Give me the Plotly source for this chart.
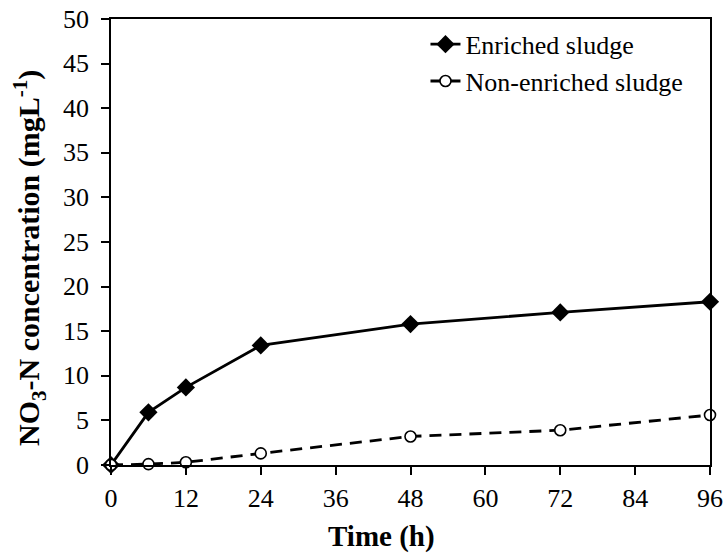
import plotly.graph_objects as go

time_h = [0, 6, 12, 24, 48, 72, 96]
enriched = [0, 5.9, 8.7, 13.4, 15.8, 17.1, 18.3]
non_enriched = [0, 0.1, 0.3, 1.3, 3.2, 3.9, 5.6]
x_ticks = [0, 12, 24, 36, 48, 60, 72, 84, 96]
y_ticks = [0, 5, 10, 15, 20, 25, 30, 35, 40, 45, 50]

font_family = "Liberation Serif"

fig = go.Figure()
fig.add_trace(go.Scatter(
    x=time_h, y=enriched, name="Enriched sludge", mode="lines+markers",
    line=dict(color="black", width=2.8),
    marker=dict(symbol="diamond", size=14, color="black"),
    cliponaxis=False,
))
fig.add_trace(go.Scatter(
    x=time_h, y=non_enriched, name="Non-enriched sludge", mode="lines+markers",
    line=dict(color="black", width=2.8, dash="12px,8px"),
    marker=dict(symbol="circle", size=11, color="white", line=dict(color="black", width=1.6)),
    cliponaxis=False,
))

annotations = [
    dict(text="<b>Time (h)</b>", xref="paper", yref="paper", x=0.452, y=-0.161,
         xanchor="center", yanchor="middle", showarrow=False, font=dict(size=29)),
    dict(text="<b>NO<sub>3</sub>-N concentration (mgL<sup>-1</sup>)</b>", xref="paper", yref="paper",
         x=-0.137, y=0.464, xanchor="center", yanchor="middle", textangle=-90,
         showarrow=False, font=dict(size=30)),
]
for v in y_ticks:
    annotations.append(dict(text=str(v), xref="paper", x=0, yref="y", y=v,
                            xanchor="right", yanchor="middle", xshift=-20,
                            showarrow=False, font=dict(size=26)))

fig.update_layout(
    width=726, height=556,
    autosize=False,
    margin=dict(l=111, r=16, t=19, b=91, autoexpand=False),
    paper_bgcolor="white", plot_bgcolor="white",
    font=dict(family=font_family, size=26, color="black"),
    showlegend=True,
    legend=dict(x=0.525, y=0.996, xanchor="left", yanchor="top",
                bgcolor="rgba(0,0,0,0)", font=dict(size=26)),
    xaxis=dict(
        range=[0, 96], tickvals=x_ticks, ticks="outside", ticklen=8, tickwidth=1.5,
        tickcolor="black", showline=True, linecolor="black", linewidth=1.5,
        mirror=True, showgrid=False, zeroline=False,
        ticklabelposition="outside", ticklabelstandoff=1,
    ),
    yaxis=dict(
        range=[0, 50], tickvals=y_ticks, ticks="outside", ticklen=8, tickwidth=1.5,
        tickcolor="black", showline=True, linecolor="black", linewidth=1.5,
        mirror=True, showgrid=False, zeroline=False, showticklabels=False,
    ),
    annotations=annotations,
)

fig.write_html("out.html", config={"displayModeBar": False},
               post_script="document.body.style.margin='0';")
